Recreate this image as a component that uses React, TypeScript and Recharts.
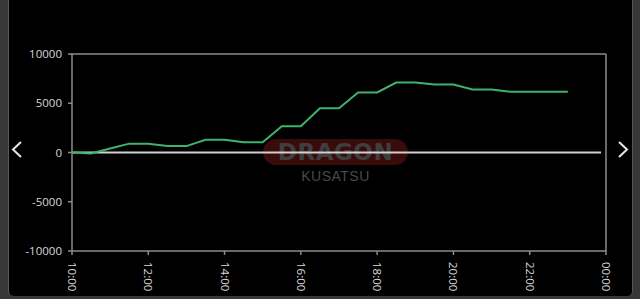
import { LineChart, Line, XAxis, YAxis, ReferenceLine } from "recharts";

const times = [
  "10:00", "10:30", "11:00", "11:30", "12:00", "12:30", "13:00", "13:30",
  "14:00", "14:30", "15:00", "15:30", "16:00", "16:30", "17:00", "17:30",
  "18:00", "18:30", "19:00", "19:30", "20:00", "20:30", "21:00", "21:30",
  "22:00", "22:30", "23:00",
];
const balance = [
  0, -100, 400, 900, 900, 650, 650, 1300,
  1300, 1050, 1050, 2670, 2670, 4500, 4500, 6100,
  6100, 7100, 7100, 6900, 6900, 6400, 6400, 6160,
  6160, 6160, 6160,
];
const xTickLabels = ["10:00", "12:00", "14:00", "16:00", "18:00", "20:00", "22:00", "00:00"];
const yTicks = [-10000, -5000, 0, 5000, 10000];

// hours after 10:00 (00:00 is the next day)
const toHours = (t: string) => {
  const [h, m] = t.split(":").map(Number);
  const hh = h < 10 ? h + 24 : h;
  return hh + m / 60 - 10;
};

const data = times.map((t, i) => ({ t: toHours(t), v: balance[i] }));
const xTicks = xTickLabels.map(toHours);
const labelFor = (v: number) => xTickLabels[xTicks.indexOf(v)] ?? "";

const FONT = "'Open Sans', 'Noto Sans', sans-serif";
const AXIS = "#8c8c8c";

function RotatedTick(props: any) {
  const { x, y, payload } = props;
  return (
    <g transform={`translate(${x},${y})`}>
      <text
        transform="rotate(90)"
        x={5}
        dy="0.35em"
        textAnchor="start"
        fill="#d8d8d8"
        fontSize={11.5}
        fontFamily={FONT}
      >
        {labelFor(payload.value)}
      </text>
    </g>
  );
}

export default function App() {
  return (
    <div
      style={{
        position: "absolute",
        left: 0,
        top: 0,
        width: 640,
        height: 299,
        background: "#383838",
        overflow: "hidden",
      }}
    >
      <div
        style={{
          position: "absolute",
          left: 8,
          top: 0,
          width: 623,
          height: 296,
          background: "#000",
          borderLeft: "1px solid #5a5a5a",
          borderRight: "1px solid #555",
          borderRadius: "0 0 5px 5px",
        }}
      />
      {/* watermark */}
      <div
        style={{
          position: "absolute",
          left: 263,
          top: 139,
          width: 145,
          height: 26,
          borderRadius: 13,
          background: "#3a0b0b",
        }}
      />
      <div
        style={{
          position: "absolute",
          left: 263,
          top: 139,
          width: 145,
          height: 26,
          lineHeight: "26px",
          textAlign: "center",
          fontFamily: "'DejaVu Sans', sans-serif",
          fontWeight: 700,
          fontSize: 23,
          color: "#3e3e3e",
          letterSpacing: 0.5,
        }}
      >
        DRAGON
      </div>
      <div
        style={{
          position: "absolute",
          left: 263,
          top: 168,
          width: 145,
          textAlign: "center",
          fontFamily: "'Liberation Sans', sans-serif",
          fontSize: 14,
          color: "#4a4a4a",
          letterSpacing: 0.5,
        }}
      >
        KUSATSU
      </div>
      {/* nav arrows */}
      <svg
        width={640}
        height={299}
        style={{ position: "absolute", left: 0, top: 0 }}
      >
        <polyline points="21,142 13,149.5 21,157" fill="none" stroke="#e8e8e8" strokeWidth={2} />
        <polyline points="619,142 627,149.5 619,157" fill="none" stroke="#e8e8e8" strokeWidth={2} />
      </svg>
      <div style={{ position: "absolute", left: 0, top: 0 }}>
        <LineChart
          width={640}
          height={299}
          data={data}
          margin={{ top: 54, right: 34, bottom: 0, left: 0 }}
        >
          <XAxis
            dataKey="t"
            type="number"
            domain={[0, 14]}
            ticks={xTicks}
            interval={0}
            height={48}
            stroke={AXIS}
            strokeWidth={1.5}
            tickSize={4}
            tickLine={{ stroke: AXIS }}
            tick={<RotatedTick />}
          />
          <YAxis
            domain={[-10000, 10000]}
            ticks={yTicks}
            interval={0}
            width={72}
            stroke={AXIS}
            strokeWidth={1.5}
            tickSize={4}
            tickMargin={6}
            tick={{ fill: "#d8d8d8", fontSize: 11.5, fontFamily: FONT }}
          />
          <ReferenceLine y={10000} stroke={AXIS} strokeWidth={1.5} />
          <ReferenceLine x={14} stroke={AXIS} strokeWidth={1.5} />
          <ReferenceLine
            segment={[
              { x: 0, y: 0 },
              { x: 13.87, y: 0 },
            ]}
            stroke="#d0d0d0"
            strokeWidth={2}
          />
          <Line
            type="linear"
            dataKey="v"
            stroke="#3cb46c"
            strokeWidth={2}
            dot={false}
            isAnimationActive={false}
          />
        </LineChart>
      </div>
    </div>
  );
}
